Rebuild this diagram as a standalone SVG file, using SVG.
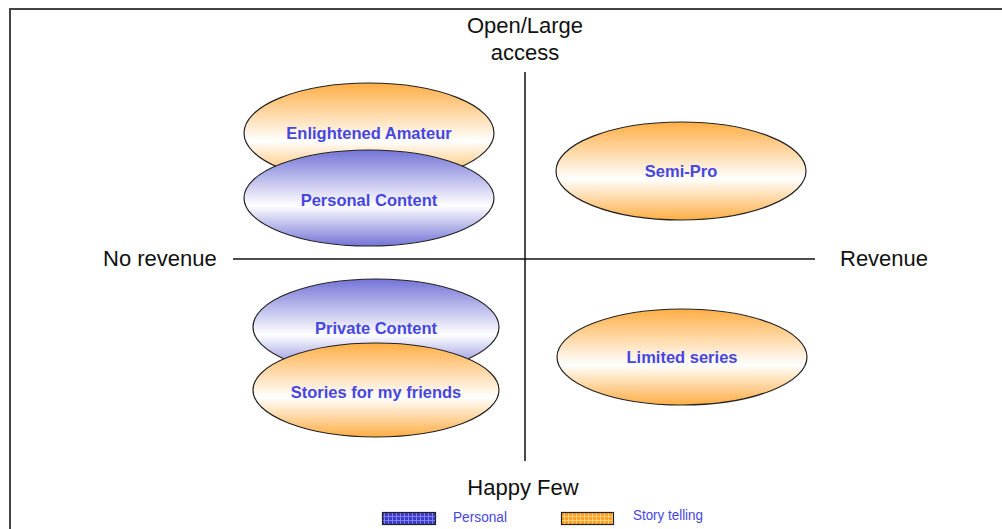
<svg xmlns="http://www.w3.org/2000/svg" width="1002" height="529" viewBox="0 0 1002 529">
<defs>
<linearGradient id="gO" x1="0" y1="0" x2="0" y2="1">
<stop offset="0" stop-color="#FFAE45"/>
<stop offset="0.58" stop-color="#FFFFFF"/>
<stop offset="1" stop-color="#FFAE45"/>
</linearGradient>
<linearGradient id="gB" x1="0" y1="0" x2="0" y2="1">
<stop offset="0" stop-color="#7474D8"/>
<stop offset="0.58" stop-color="#FFFFFF"/>
<stop offset="1" stop-color="#7474D8"/>
</linearGradient>
<pattern id="pB" width="4" height="4" patternUnits="userSpaceOnUse">
<rect width="4" height="4" fill="#3A3ACC"/>
<path d="M0 0.5H4M0.5 0V4" stroke="#8080E8" stroke-width="1"/>
</pattern>
<pattern id="pO" width="4" height="4" patternUnits="userSpaceOnUse">
<rect width="4" height="4" fill="#FFA020"/>
<path d="M0 0.5H4M0.5 0V4" stroke="#FFD080" stroke-width="1"/>
</pattern>
</defs>
<style>
.ax{font-family:"Liberation Sans",Arial,sans-serif;font-size:22px;fill:#111;}
.nl{font-family:"Liberation Sans",Arial,sans-serif;font-size:16.5px;font-weight:bold;fill:#4646E0;text-anchor:middle;}
.lg{font-family:"Liberation Sans",Arial,sans-serif;font-size:14px;fill:#4646E0;}
.eo{fill:url(#gO);stroke:#222;stroke-width:1.2;}
.eb{fill:url(#gB);stroke:#222;stroke-width:1.2;}
.line{stroke:#111;stroke-width:1.5;fill:none;}
</style>
<rect width="1002" height="529" fill="#fff"/>
<path d="M10 540V9H1010" fill="none" stroke="#444" stroke-width="2"/>
<g id="connectors">
<line class="line" x1="525" y1="72" x2="525" y2="461"/>
<line class="line" x1="233" y1="259" x2="815" y2="259"/>
</g>
<g id="axis-labels">
<text class="ax" x="525" y="33" text-anchor="middle">Open/Large</text>
<text class="ax" x="525" y="60" text-anchor="middle">access</text>
<text class="ax" x="103" y="266">No revenue</text>
<text class="ax" x="840" y="266">Revenue</text>
<text class="ax" x="523" y="495" text-anchor="middle">Happy Few</text>
</g>
<g id="enlightened-amateur">
<ellipse class="eo" cx="369" cy="133" rx="125" ry="50"/>
<text class="nl" x="369" y="139">Enlightened Amateur</text>
</g>
<g id="personal-content">
<ellipse class="eb" cx="369" cy="198" rx="125" ry="48"/>
<text class="nl" x="369" y="206">Personal Content</text>
</g>
<g id="semi-pro">
<ellipse class="eo" cx="681" cy="171" rx="125" ry="49"/>
<text class="nl" x="681" y="177">Semi-Pro</text>
</g>
<g id="private-content">
<ellipse class="eb" cx="376" cy="327" rx="123" ry="48"/>
<text class="nl" x="376" y="334">Private Content</text>
</g>
<g id="stories-for-my-friends">
<ellipse class="eo" cx="376" cy="390" rx="123" ry="47"/>
<text class="nl" x="376" y="398">Stories for my friends</text>
</g>
<g id="limited-series">
<ellipse class="eo" cx="682" cy="357" rx="125" ry="48"/>
<text class="nl" x="682" y="363">Limited series</text>
</g>
<g id="legend">
<rect x="382.5" y="512.5" width="53" height="12" fill="url(#pB)" stroke="#222" stroke-width="1.2"/>
<text class="lg" x="453" y="522" textLength="54" lengthAdjust="spacingAndGlyphs">Personal</text>
<rect x="561.5" y="512.5" width="52" height="12" fill="url(#pO)" stroke="#222" stroke-width="1.2"/>
<text class="lg" x="633" y="520" textLength="70" lengthAdjust="spacingAndGlyphs">Story telling</text>
</g>
</svg>
